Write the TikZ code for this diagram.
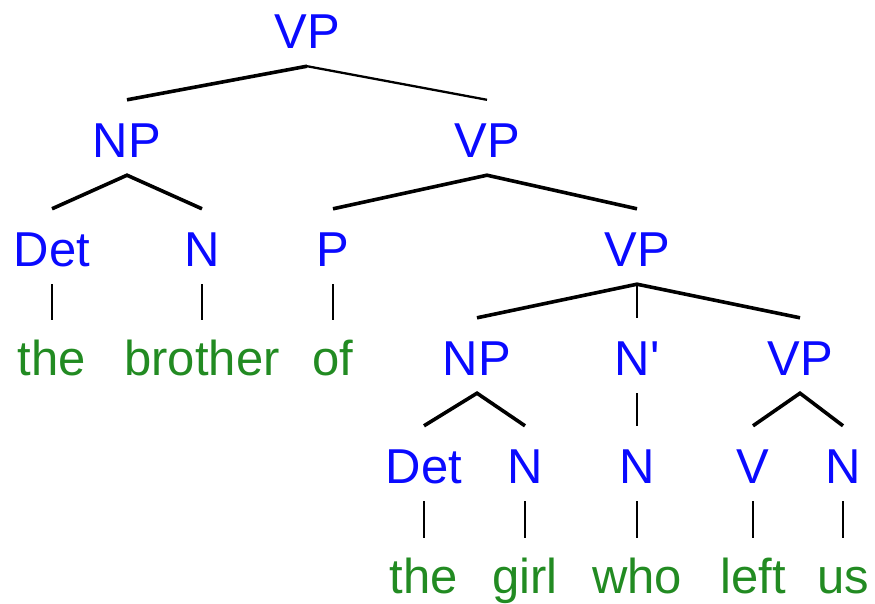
\documentclass[tikz,border=0pt]{standalone}
\usepackage{fontspec}
\newfontfamily\treefont{Liberation Sans}
\definecolor{catblue}{RGB}{10,10,255}
\definecolor{wordgreen}{RGB}{34,139,34}
\begin{document}
\begin{tikzpicture}[x=1pt,y=-1pt,
  cat/.style={font=\treefont\fontsize{49}{49}\selectfont, text=catblue, inner sep=0pt,
    text height=57pt, text depth=18pt, anchor=base},
  word/.style={font=\treefont\fontsize{49}{49}\selectfont, text=wordgreen, inner sep=0pt,
    text height=55pt, text depth=0pt, anchor=base},
  branch/.style={line width=3.6pt, black},
  unary/.style={line width=2.3pt, black}]
\useasboundingbox (0,0) rectangle (875,603);
% level baselines: 48, 157, 266, 375, 483, 593
\node[cat] (vp0) at (307,48) {VP};
\node[cat] (np1) at (127,157) {NP};
\node[cat] (vp1) at (487,157) {VP};
\node[cat] (det1) at (52,266) {Det};
\node[cat] (n1) at (202,266) {N};
\node[cat] (p1) at (333,266) {P};
\node[cat] (vp2) at (637,266) {VP};
\node[word] (the1) at (52,375) {the};
\node[word] (brother) at (202,375) {brother};
\node[word] (of) at (333,375) {of};
\node[cat] (np2) at (477,375) {NP};
\node[cat] (nbar) at (637,375) {N'};
\node[cat] (vp3) at (800,375) {VP};
\node[cat] (det2) at (424,483) {Det};
\node[cat] (n2) at (525,483) {N};
\node[cat] (n3) at (637,483) {N};
\node[cat] (v3) at (753,483) {V};
\node[cat] (n4) at (843,483) {N};
\node[word] (the2) at (424,593) {the};
\node[word] (girl) at (525,593) {girl};
\node[word] (who) at (637,593) {who};
\node[word] (left) at (753,593) {left};
\node[word] (us) at (843,593) {us};
% branching edges
\draw[branch] (np1.north) -- (vp0.south);
\draw[unary] (vp0.south) -- (vp1.north);
\draw[branch] (det1.north) -- (np1.south) -- (n1.north);
\draw[branch] (p1.north) -- (vp1.south) -- (vp2.north);
\draw[branch] (np2.north) -- (vp2.south) -- (vp3.north);
\draw[unary] (vp2.south) -- (nbar.north);
\draw[branch] (det2.north) -- (np2.south) -- (n2.north);
\draw[branch] (v3.north) -- (vp3.south) -- (n4.north);
% unary edges
\draw[unary] (det1.south) -- (the1.north);
\draw[unary] (n1.south) -- (brother.north);
\draw[unary] (p1.south) -- (of.north);
\draw[unary] (nbar.south) -- (n3.north);
\draw[unary] (det2.south) -- (the2.north);
\draw[unary] (n2.south) -- (girl.north);
\draw[unary] (n3.south) -- (who.north);
\draw[unary] (v3.south) -- (left.north);
\draw[unary] (n4.south) -- (us.north);
\end{tikzpicture}
\end{document}
